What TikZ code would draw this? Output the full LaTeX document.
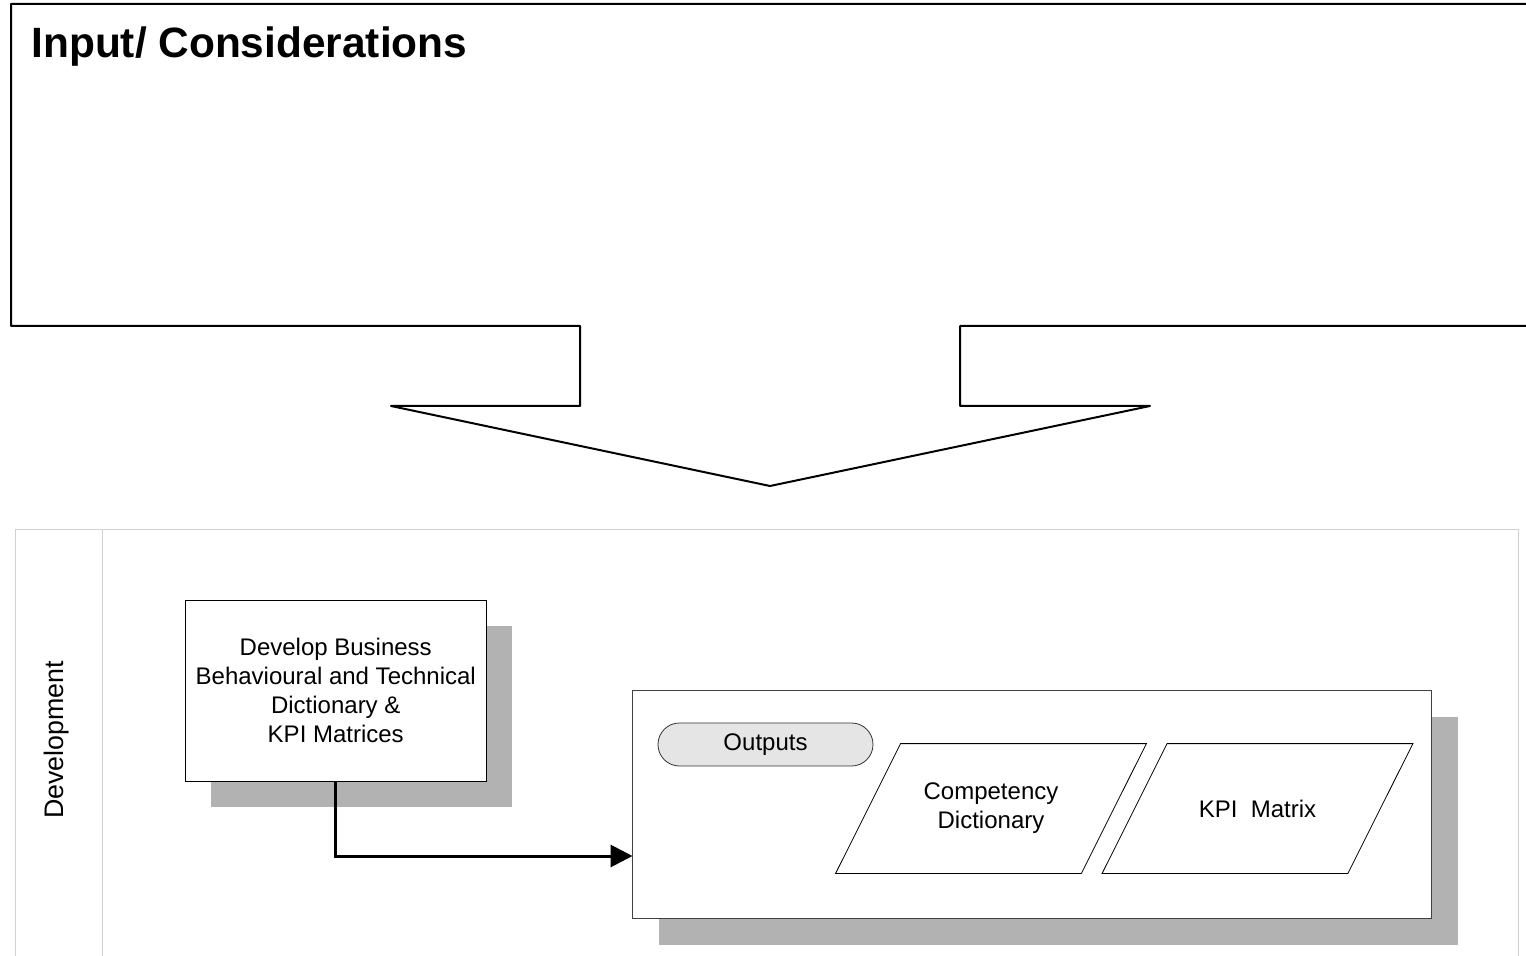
\documentclass[tikz,border=0pt]{standalone}
\usepackage{fontspec}
\setmainfont{Liberation Sans}
\usetikzlibrary{
	arrows.meta,shapes.geometric,shadows,positioning,calc
}
\tikzset{
  taskbox/.style={
    rectangle, minimum width=150.5pt, minimum height=90.5pt,
    thin, draw=black, fill=white, align=center,
    font=\fontsize{12}{14.5}\selectfont,
    drop shadow={shadow xshift=13pt, shadow yshift=-13pt, fill=black!30, opacity=1}
  },
  %
  container/.style={
    rectangle, minimum width=399.5pt, minimum height=114pt,
    thin, draw=black!75, fill=white,
    drop shadow={shadow xshift=13.5pt, shadow yshift=-13.5pt, fill=black!30, opacity=1}
  },
  %
  terminal/.style={
    rectangle, minimum width=107.5pt, minimum height=21.5pt, rounded corners=10.7pt,
    thin, draw=black!80, fill=black!10, font=\fontsize{12}{14.5}\selectfont
  },
  %
  outdoc/.style={
    rectangle, minimum width=122.5pt, minimum height=64.5pt, align=center,
    font=\fontsize{12}{14.5}\selectfont
  },
  %
  docshape/.style={
    thin, draw=black
  },
  %
  lane/.style={
    draw=black!18, thin
  },
  %
  flow/.style={
    line width=1.5pt, -{Triangle[length=11pt,width=11pt]}
  }
}

\begin{document}
\begin{tikzpicture}[x=0.5pt, y=-0.5pt]
\useasboundingbox (0,0) rectangle (1526,956);

% input area with its down arrow
\draw[line width=1pt, line join=round] (11,4) -- (1545,4) -- (1545,326) -- (960,326) -- (960,406) -- (1150,406)
  -- (770,486) -- (391,406) -- (580,406) -- (580,326) -- (11,326) -- cycle;
\node(title)[anchor=base west, inner sep=0pt, font=\fontsize{21.2}{24}\selectfont\bfseries] at (31,58) {Input/ Considerations};

% swim lane
\draw[lane] (15,962) |- (1518,529) -- (1518,962);
\draw[lane] (102,529) -- (102,962);
\node(lanename)[rotate=90, font=\fontsize{13.4}{15}\selectfont] at (57,740) {Development};

\node(develop)[taskbox] at (335.75,690.5) {Develop Business\\Behavioural and Technical\\Dictionary \&\\KPI Matrices};

\node(outbox)[container] at (1031.5,804) {};
\node(outlabel)[terminal, below right=16.5pt and 13pt of outbox.north west] {Outputs};
\node(compdict)[outdoc] at (991,808.5) {Competency\\Dictionary};
\node(kpimatrix)[outdoc] at (1257.5,808.5) {KPI\ \ Matrix};
\foreach \n in {compdict,kpimatrix}
  \draw[docshape] ($(\n.south west)+(-32.5,0)$) -- ($(\n.north west)+(32.5,0)$)
    -- ($(\n.north east)+(32.5,0)$) -- ($(\n.south east)+(-32.5,0)$) -- cycle;

\coordinate (outin) at (632.5,856);
\draw[flow] (develop.south) |- (outin);

\end{tikzpicture}
\end{document}
